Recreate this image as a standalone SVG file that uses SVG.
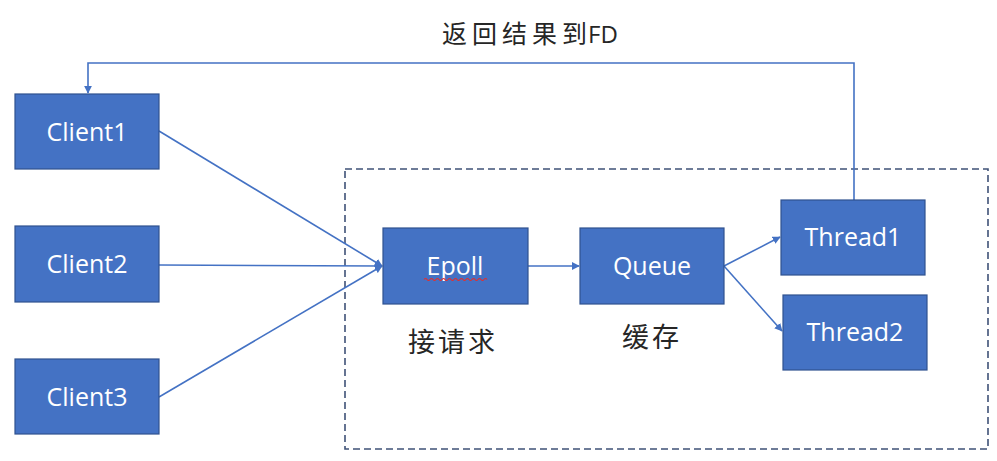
<svg xmlns="http://www.w3.org/2000/svg" width="997" height="461" viewBox="0 0 997 461">
<style>
.box{fill:#4472C4;stroke:#2F528F;stroke-width:1.2}
.lbl{font-family:"Open Sans","Liberation Sans",sans-serif;font-size:25px;fill:#FFFFFF;text-anchor:middle}
.cjk{font-family:"Noto Sans CJK SC","Noto Sans",sans-serif;fill:#262626;text-anchor:middle}
.con{fill:none;stroke:#4472C4;stroke-width:1.6}
</style>
<defs>
<marker id="arr" viewBox="0 0 10 10" refX="9" refY="5" markerWidth="8" markerHeight="8" markerUnits="userSpaceOnUse" orient="auto">
<path d="M0,0 L10,5 L0,10 z" fill="#4472C4"/>
</marker>
</defs>
<rect width="997" height="461" fill="#FFFFFF"/>
<rect id="boundary" x="345" y="169" width="643" height="280" fill="none" stroke="#3F5277" stroke-width="1.6" stroke-dasharray="7,4"/>
<g id="connectors">
<line class="con" x1="159" y1="131" x2="382" y2="266" marker-end="url(#arr)"/>
<line class="con" x1="159" y1="265" x2="382" y2="266" marker-end="url(#arr)"/>
<line class="con" x1="159" y1="397" x2="382" y2="266" marker-end="url(#arr)"/>
<line class="con" x1="528" y1="266" x2="579" y2="266" marker-end="url(#arr)"/>
<line class="con" x1="724" y1="266" x2="780" y2="237" marker-end="url(#arr)"/>
<line class="con" x1="724" y1="266" x2="782" y2="331" marker-end="url(#arr)"/>
<polyline class="con" points="854,200 854,63 88,63 88,93" marker-end="url(#arr)"/>
</g>
<g id="client1"><rect class="box" x="15" y="94" width="144" height="75"/><text class="lbl" x="87" y="141">Client1</text></g>
<g id="client2"><rect class="box" x="15" y="226" width="144" height="76"/><text class="lbl" x="87" y="273">Client2</text></g>
<g id="client3"><rect class="box" x="15" y="359" width="144" height="75"/><text class="lbl" x="87" y="406">Client3</text></g>
<g id="epoll"><rect class="box" x="383" y="228" width="145" height="76"/><text class="lbl" x="455" y="275">Epoll</text>
<path d="M424,279.5 q1.5,-2 3,0 t3,0 t3,0 t3,0 t3,0 t3,0 t3,0 t3,0 t3,0 t3,0 t3,0 t3,0 t3,0 t3,0 t3,0 t3,0 t3,0 t3,0 t3,0 t3,0 t3,0" fill="none" stroke="#E03030" stroke-width="1.2"/></g>
<g id="queue"><rect class="box" x="580" y="228" width="144" height="76"/><text class="lbl" x="652" y="275">Queue</text></g>
<g id="thread1"><rect class="box" x="781" y="200" width="144" height="75"/><text class="lbl" x="853" y="246">Thread1</text></g>
<g id="thread2"><rect class="box" x="783" y="295" width="144" height="75"/><text class="lbl" x="855" y="341">Thread2</text></g>
<text class="cjk" x="530" y="43" font-size="25"><tspan letter-spacing="5">返回结果</tspan><tspan dx="0">到</tspan><tspan dx="1" font-family="'Open Sans','Liberation Sans',sans-serif" font-size="24">FD</tspan></text>
<text class="cjk" x="453" y="352" font-size="27" letter-spacing="3">接请求</text>
<text class="cjk" x="652" y="347" font-size="27" letter-spacing="3">缓存</text>
</svg>
